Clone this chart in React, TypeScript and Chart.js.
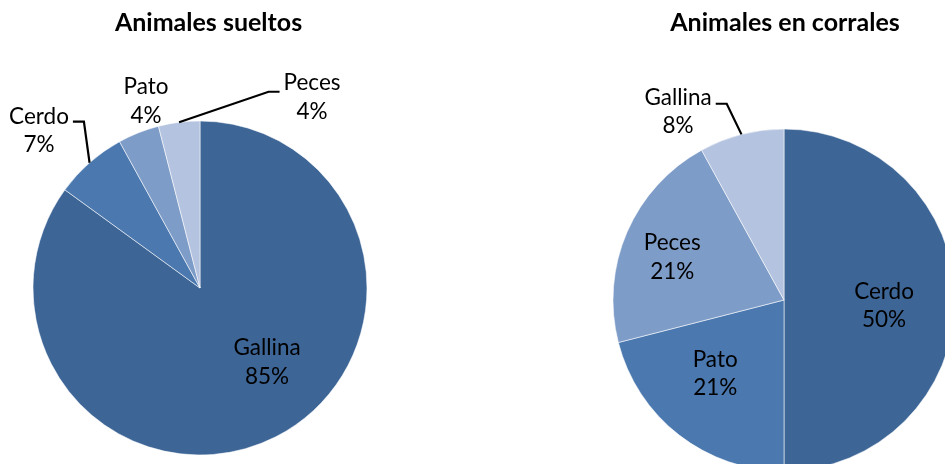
import React, { useEffect, useRef } from "react";
import { Chart, registerables } from "chart.js";

Chart.register(...registerables);

// ---- data ----
const LEFT_TITLE = "Animales sueltos";
const LEFT_CATEGORIES = ["Gallina", "Cerdo", "Pato", "Peces"];
const LEFT_VALUES = [85, 7, 4, 4];

const RIGHT_TITLE = "Animales en corrales";
const RIGHT_CATEGORIES = ["Cerdo", "Pato", "Peces", "Gallina"];
const RIGHT_VALUES = [50, 21, 21, 8];

// ---- styles ----
const SLICE_COLORS = ["#3D6596", "#4A78AF", "#7E9CC8", "#B4C3DF"];
const FONT = "Lato, 'Noto Sans', sans-serif";
const LABEL_SIZE = 22.5;
const TITLE_SIZE = 25;
const LINE_H = 28.5;

type Place = { angle: number; frac: number; leader?: "left" | "right"; stubDy?: number };

// label placement (polar, degrees clockwise from 12 o'clock, fraction of radius)
const LEFT_PLACES: Place[] = [
  { angle: 138, frac: 0.6 },
  { angle: 314.3, frac: 1.347, leader: "right", stubDy: 5 },
  { angle: 343.9, frac: 1.165 },
  { angle: 30.4, frac: 1.326, leader: "left", stubDy: 9 },
];
const RIGHT_PLACES: Place[] = [
  { angle: 93.4, frac: 0.586 },
  { angle: 223, frac: 0.59 },
  { angle: 291, frac: 0.7 },
  { angle: 330.6, frac: 1.262, leader: "right", stubDy: 6 },
];

function makeLabelPlugin(places: Place[], title: string, titleX: number, titleY: number) {
  return {
    id: "pieLabels",
    afterDatasetsDraw(chart: any) {
      const ctx: CanvasRenderingContext2D = chart.ctx;
      const meta = chart.getDatasetMeta(0);
      const data = chart.data.datasets[0].data as number[];
      const labels = chart.data.labels as string[];
      const total = data.reduce((a, b) => a + b, 0);
      ctx.save();
      ctx.font = `${LABEL_SIZE}px ${FONT}`;
      ctx.fillStyle = "#000";
      ctx.strokeStyle = "#000";
      ctx.lineWidth = 2.2;
      ctx.textAlign = "center";
      ctx.textBaseline = "middle";
      meta.data.forEach((arc: any, i: number) => {
        const p = arc.getProps(["x", "y", "startAngle", "endAngle", "outerRadius"], true);
        const pl = places[i];
        const a = ((pl.angle - 90) * Math.PI) / 180;
        const cx = p.x + Math.cos(a) * p.outerRadius * pl.frac;
        const cy = p.y + Math.sin(a) * p.outerRadius * pl.frac;
        const line1 = labels[i];
        const line2 = Math.round((data[i] / total) * 100) + "%";
        ctx.fillText(line1, cx, cy - LINE_H / 2);
        ctx.fillText(line2, cx, cy + LINE_H / 2);
        if (pl.leader) {
          const mid = (p.startAngle + p.endAngle) / 2;
          const ex = p.x + Math.cos(mid) * p.outerRadius;
          const ey = p.y + Math.sin(mid) * p.outerRadius;
          const w = ctx.measureText(line1).width;
          const dir = pl.leader === "right" ? 1 : -1;
          const sy = cy - LINE_H / 2 + (pl.stubDy || 5);
          const sx0 = cx + dir * (w / 2 + 4);
          const sx1 = sx0 + dir * 11;
          ctx.beginPath();
          ctx.moveTo(sx0, sy);
          ctx.lineTo(sx1, sy);
          ctx.lineTo(ex, ey);
          ctx.stroke();
        }
      });
      ctx.font = `bold ${TITLE_SIZE}px ${FONT}`;
      ctx.textBaseline = "alphabetic";
      ctx.fillText(title, titleX, titleY);
      ctx.restore();
    },
  };
}

function PieChart(props: {
  labels: string[];
  values: number[];
  places: Place[];
  title: string;
  titleX: number;
  width: number;
  height: number;
  radius: number;
  padding: { left: number; right: number; top: number; bottom: number };
  style: React.CSSProperties;
}) {
  const ref = useRef<HTMLCanvasElement | null>(null);
  useEffect(() => {
    if (!ref.current) return;
    const chart = new Chart(ref.current, {
      type: "pie",
      data: {
        labels: props.labels,
        datasets: [
          {
            data: props.values,
            backgroundColor: SLICE_COLORS,
            borderColor: "rgba(255,255,255,0.55)",
            borderWidth: 1,
            radius: props.radius,
          } as any,
        ],
      },
      options: {
        responsive: false,
        animation: false,
        layout: { padding: props.padding },
        plugins: {
          legend: { display: false },
          title: { display: false },
          tooltip: { enabled: false },
        },
      },
      plugins: [makeLabelPlugin(props.places, props.title, props.titleX, 31)],
    });
    return () => chart.destroy();
  }, []);
  return (
    <canvas
      ref={ref}
      width={props.width}
      height={props.height}
      style={{ position: "absolute", width: props.width, height: props.height, ...props.style }}
    />
  );
}

export default function App() {
  return (
    <div
      style={{
        position: "fixed",
        left: 0,
        top: 0,
        width: 945,
        height: 464,
        overflow: "hidden",
        background: "#fff",
      }}
    >
      <PieChart
        labels={LEFT_CATEGORIES}
        values={LEFT_VALUES}
        places={LEFT_PLACES}
        title={LEFT_TITLE}
        titleX={208.5}
        width={470}
        height={464}
        radius={167}
        padding={{ left: 33, right: 103, top: 121, bottom: 9 }}
        style={{ left: 0, top: 0 }}
      />
      <PieChart
        labels={RIGHT_CATEGORIES}
        values={RIGHT_VALUES}
        places={RIGHT_PLACES}
        title={RIGHT_TITLE}
        titleX={225}
        width={460}
        height={520}
        radius={171}
        padding={{ left: 53, right: 65, top: 129, bottom: 49 }}
        style={{ left: 560, top: 0 }}
      />
    </div>
  );
}
